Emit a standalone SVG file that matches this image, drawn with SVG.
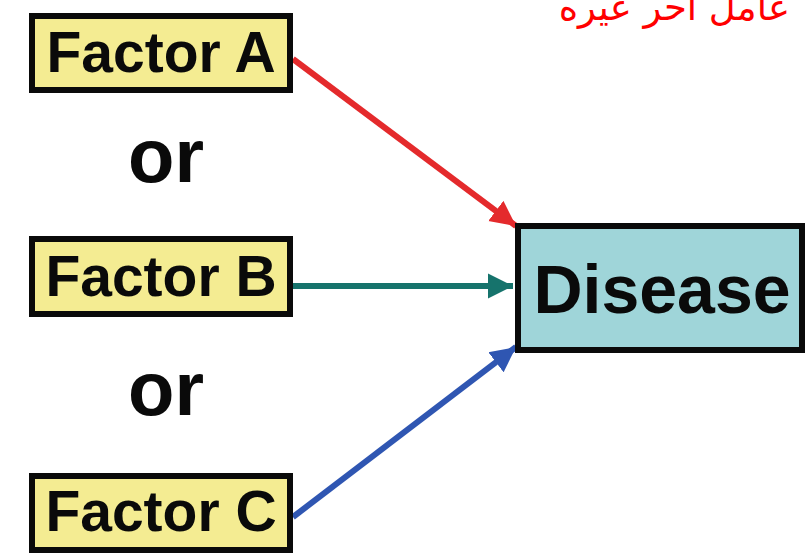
<svg xmlns="http://www.w3.org/2000/svg" width="806" height="556" viewBox="0 0 806 556">
  <defs>
    <style>
      .factor rect { fill: #f4ec92; stroke: #0a0a0a; stroke-width: 6; }
      .label { font-family: "Liberation Sans", Arial, sans-serif; font-weight: bold; fill: #0a0a0a; }
      .or { font-family: "Liberation Sans", Arial, sans-serif; font-weight: bold; font-size: 76px; fill: #0a0a0a; }
      .link { fill: none; stroke-width: 6; }
    </style>
    <marker id="head-red" viewBox="0 0 10 10" refX="10" refY="5" markerWidth="4.2" markerHeight="4.4" orient="auto" markerUnits="strokeWidth">
      <path d="M0,0 L10,5 L0,10 z" fill="#e42a2c"/>
    </marker>
    <marker id="head-teal" viewBox="0 0 10 10" refX="10" refY="5" markerWidth="4.2" markerHeight="4.4" orient="auto" markerUnits="strokeWidth">
      <path d="M0,0 L10,5 L0,10 z" fill="#16736c"/>
    </marker>
    <marker id="head-blue" viewBox="0 0 10 10" refX="10" refY="5" markerWidth="4.2" markerHeight="4.4" orient="auto" markerUnits="strokeWidth">
      <path d="M0,0 L10,5 L0,10 z" fill="#2f56b2"/>
    </marker>
  </defs>

  <rect width="806" height="556" fill="#ffffff"/>

  <!-- note in the top right corner -->
  <text x="790" y="20" text-anchor="end" font-family="'DejaVu Sans', sans-serif" font-size="37" fill="#ff0000">عامل احر عيره</text>

  <!-- connectors -->
  <g id="connectors">
    <line class="link" x1="293" y1="59" x2="516" y2="226" stroke="#e42a2c" marker-end="url(#head-red)"/>
    <line class="link" x1="293" y1="286" x2="513" y2="286" stroke="#16736c" marker-end="url(#head-teal)"/>
    <line class="link" x1="293" y1="517" x2="516" y2="347" stroke="#2f56b2" marker-end="url(#head-blue)"/>
  </g>

  <g id="factor-a" class="factor">
    <rect x="32" y="16" width="258" height="74"/>
    <text class="label" x="161" y="72" font-size="57" text-anchor="middle">Factor A</text>
  </g>

  <text class="or" x="128" y="182">or</text>

  <g id="factor-b" class="factor">
    <rect x="32" y="239" width="258" height="75"/>
    <text class="label" x="161" y="296" font-size="57" text-anchor="middle">Factor B</text>
  </g>

  <text class="or" x="128" y="415">or</text>

  <g id="factor-c" class="factor">
    <rect x="32" y="476" width="258" height="74"/>
    <text class="label" x="161" y="531" font-size="57" text-anchor="middle">Factor C</text>
  </g>

  <g id="disease">
    <rect x="518" y="226" width="284" height="124" fill="#9fd5d9" stroke="#0a0a0a" stroke-width="6"/>
    <text class="label" x="662" y="313" font-size="68" text-anchor="middle">Disease</text>
  </g>
</svg>
